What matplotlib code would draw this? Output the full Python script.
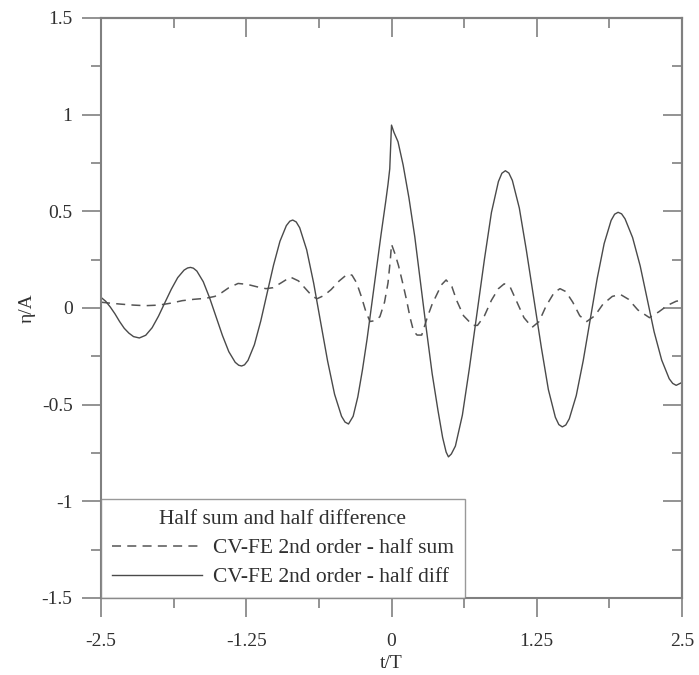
import numpy as np
import matplotlib
matplotlib.use("Agg")
import matplotlib.pyplot as plt

plt.rcParams['font.family'] = ['Liberation Serif', 'DejaVu Serif']
plt.rcParams['lines.scale_dashes'] = False

# half difference (solid)
t_diff = [-2.5, -2.46, -2.42, -2.38, -2.34, -2.30, -2.26, -2.22, -2.17,
          -2.115, -2.06, -2.005, -1.95, -1.895, -1.84, -1.785, -1.755, -1.73, -1.705,
          -1.675, -1.62, -1.565, -1.51, -1.455, -1.40, -1.345, -1.315, -1.29, -1.265,
          -1.235, -1.18, -1.125, -1.07, -1.015, -0.96, -0.905, -0.875, -0.85, -0.82,
          -0.79, -0.73, -0.67, -0.61, -0.55, -0.49, -0.43, -0.40, -0.37,
          -0.33, -0.29, -0.25, -0.21, -0.17, -0.13, -0.09, -0.05, -0.03, -0.015, 0.0,
          0.02, 0.056, 0.10, 0.15, 0.20, 0.25, 0.30, 0.35, 0.40, 0.44, 0.47, 0.49, 0.515,
          0.55, 0.61, 0.67, 0.735, 0.80, 0.86, 0.92, 0.95, 0.98, 1.01,
          1.04, 1.10, 1.16, 1.225, 1.29, 1.35, 1.41, 1.44, 1.47, 1.50,
          1.53, 1.59, 1.65, 1.71, 1.77, 1.83, 1.89, 1.92, 1.95, 1.98,
          2.01, 2.075, 2.14, 2.20, 2.26, 2.325, 2.39, 2.42, 2.45, 2.5]
eta_diff = [0.055, 0.035, 0.005, -0.03, -0.07, -0.105, -0.13, -0.148, -0.155,
            -0.141, -0.102, -0.042, 0.028, 0.097, 0.157, 0.196, 0.207, 0.21, 0.206,
            0.191, 0.136, 0.052, -0.045, -0.142, -0.226, -0.281, -0.296, -0.30, -0.294,
            -0.271, -0.19, -0.067, 0.078, 0.222, 0.345, 0.426, 0.449, 0.455, 0.445,
            0.415, 0.301, 0.129, -0.073, -0.274, -0.446, -0.56, -0.59, -0.60,
            -0.56, -0.46, -0.32, -0.16, 0.02, 0.20, 0.38, 0.55, 0.64, 0.72, 0.946,
            0.91, 0.86, 0.74, 0.57, 0.37, 0.13, -0.11, -0.34, -0.53, -0.67, -0.745, -0.77, -0.755,
            -0.714, -0.554, -0.313, -0.03, 0.253, 0.494, 0.654, 0.697, 0.71, 0.698,
            0.66, 0.517, 0.301, 0.048, -0.206, -0.422, -0.565, -0.603, -0.615, -0.605,
            -0.573, -0.453, -0.272, -0.06, 0.152, 0.333, 0.453, 0.485, 0.495, 0.487,
            0.461, 0.364, 0.218, 0.048, -0.123, -0.269, -0.366, -0.39, -0.40, -0.385]

# half sum (dashed)
t_sum = [-2.5, -2.42, -2.33, -2.22, -2.12, -2.0, -1.9, -1.8, -1.7, -1.6, -1.52,
         -1.46, -1.40, -1.32, -1.24, -1.16, -1.08, -1.02, -0.95, -0.87, -0.80,
         -0.74, -0.68, -0.64, -0.58, -0.52, -0.45, -0.38, -0.34, -0.30, -0.26,
         -0.22, -0.185, -0.14, -0.10, -0.06, -0.03, -0.01, 0.0, 0.03, 0.06,
         0.10, 0.13, 0.16, 0.19, 0.22, 0.26, 0.31, 0.35, 0.39, 0.43, 0.47,
         0.52, 0.56, 0.62, 0.70, 0.74, 0.80, 0.86, 0.92, 0.97, 1.02, 1.08,
         1.14, 1.21, 1.27, 1.33, 1.40, 1.45, 1.50, 1.56, 1.62, 1.68, 1.75,
         1.82, 1.90, 1.97, 2.04, 2.12, 2.22, 2.30, 2.38, 2.45, 2.5]
eta_sum = [0.03, 0.025, 0.02, 0.015, 0.012, 0.015, 0.025, 0.038, 0.045, 0.05, 0.06,
           0.08, 0.105, 0.127, 0.122, 0.11, 0.10, 0.105, 0.13, 0.16, 0.14,
           0.10, 0.06, 0.048, 0.065, 0.095, 0.14, 0.175, 0.17, 0.13, 0.06,
           -0.02, -0.07, -0.065, -0.045, 0.03, 0.13, 0.25, 0.33, 0.28, 0.22,
           0.12, 0.04, -0.05, -0.12, -0.14, -0.14, -0.045, 0.02, 0.07, 0.12, 0.145,
           0.11, 0.04, -0.04, -0.09, -0.09, -0.04, 0.04, 0.10, 0.125, 0.11, 0.03,
           -0.05, -0.10, -0.07, 0.01, 0.08, 0.10, 0.085, 0.03, -0.04, -0.07, -0.04,
           0.02, 0.06, 0.07, 0.045, -0.01, -0.05, -0.02, 0.015, 0.035, 0.04]

xticks = [-2.5, -1.25, 0, 1.25, 2.5]
xtick_labels = ['-2.5', '-1.25', '0', '1.25', '2.5']
yticks = [-1.5, -1, -0.5, 0, 0.5, 1, 1.5]
ytick_labels = ['-1.5', '-1', '-0.5', '0', '0.5', '1', '1.5']

axcol = '#808080'
txtcol = '#303030'

fig = plt.figure(figsize=(6.99, 6.75), dpi=100)
ax = fig.add_axes([101/699, 77/675, 581/699, 580/675])

ax.plot(t_sum, eta_sum, color='#555555', lw=1.1, dashes=(6.5, 4.5),
        label='CV-FE 2nd order - half sum')
ax.plot(t_diff, eta_diff, color='#4a4a4a', lw=1.0,
        label='CV-FE 2nd order - half diff')

ax.set_xlim(-2.5, 2.5)
ax.set_ylim(-1.5, 1.5)
ax.set_xticks(xticks)
ax.set_xticklabels(xtick_labels)
ax.set_yticks(yticks)
ax.set_yticklabels(ytick_labels)
ax.set_xticks([-1.875, -0.625, 0.625, 1.875], minor=True)
ax.set_yticks([-1.25, -0.75, -0.25, 0.25, 0.75, 1.25], minor=True)

for s in ax.spines.values():
    s.set_color(axcol)
    s.set_linewidth(1.5)

ax.tick_params(which='major', direction='out', length=13.5, width=1.2, color=axcol,
               labelsize=14, labelcolor=txtcol)
ax.tick_params(axis='x', which='major', pad=12)
ax.tick_params(axis='y', which='major', pad=7)
ax.tick_params(which='minor', direction='out', length=7.5, width=1.2, color=axcol)

# inward ticks on top and right
top = ax.secondary_xaxis('top')
top.set_xticks(xticks)
top.set_xticks([-1.875, -0.625, 0.625, 1.875], minor=True)
top.tick_params(which='major', direction='in', length=14, width=1.2, color=axcol, labeltop=False)
top.tick_params(which='minor', direction='in', length=7, width=1.2, color=axcol)
top.spines['top'].set_color(axcol)
top.spines['top'].set_linewidth(1.5)

right = ax.secondary_yaxis('right')
right.set_yticks(yticks)
right.set_yticks([-1.25, -0.75, -0.25, 0.25, 0.75, 1.25], minor=True)
right.tick_params(which='major', direction='in', length=14, width=1.2, color=axcol, labelright=False)
right.tick_params(which='minor', direction='in', length=7, width=1.2, color=axcol)
right.spines['right'].set_color(axcol)
right.spines['right'].set_linewidth(1.5)

ax.set_xlabel('t/T', fontsize=14, color=txtcol, labelpad=3)
ax.set_ylabel('η/A', fontsize=14, color=txtcol)
ax.yaxis.set_label_coords(-0.112, 0.5)

leg = ax.legend(loc='lower left', bbox_to_anchor=(0, 0), borderaxespad=0,
                title='Half sum and half difference', fontsize=15.5, title_fontsize=15.5,
                frameon=True, fancybox=False, handlelength=4.2, handletextpad=0.5,
                labelspacing=0.42, borderpad=0.5)
leg.get_frame().set_edgecolor(axcol)
leg.get_frame().set_linewidth(1.0)
for t in leg.get_texts():
    t.set_color(txtcol)
leg.get_title().set_color(txtcol)

fig.savefig('out.png', dpi=100)
